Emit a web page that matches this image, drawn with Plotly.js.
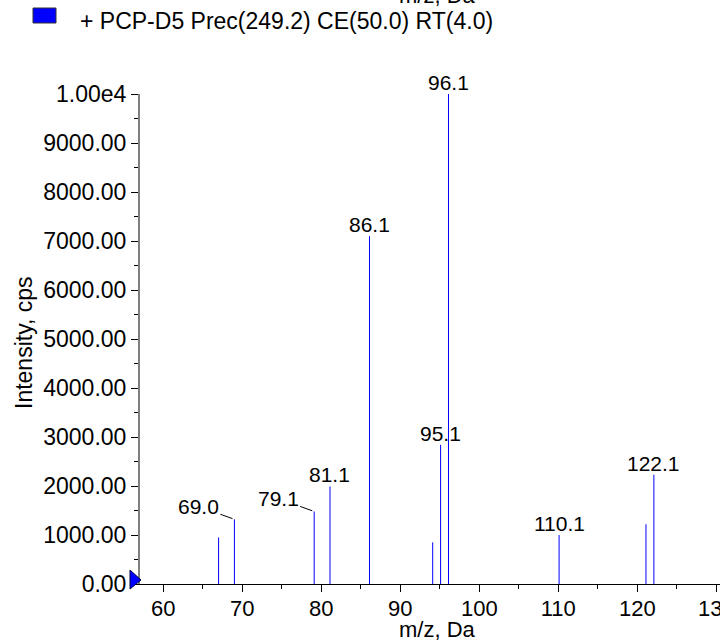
<!DOCTYPE html>
<html>
<head>
<meta charset="utf-8">
<script src="https://cdn.plot.ly/plotly-3.0.1.min.js"></script>
<style>html,body{margin:0;padding:0;overflow:hidden;background:#fff;}</style>
</head>
<body>
<div id="chart" style="width:720px;height:641px;"></div>
<script>
// Peak data
var mz = [67.0, 69.0, 79.1, 81.1, 86.1, 94.1, 95.1, 96.1, 110.1, 121.1, 122.1];
var intensity = [950, 1320, 1480, 1990, 7100, 850, 2840, 10000, 1000, 1220, 2230];
var peakLabels = ["", "69.0", "79.1", "81.1", "86.1", "", "95.1", "96.1", "110.1", "", "122.1"];
var leaderLabels = ["69.0", "79.1"];
var yTickVals = [0, 1000, 2000, 3000, 4000, 5000, 6000, 7000, 8000, 9000, 10000];
var yTickText = ["0.00", "1000.00", "2000.00", "3000.00", "4000.00", "5000.00", "6000.00", "7000.00", "8000.00", "9000.00", "1.00e4"];
var xRange = [57.05, 130.47];
var seriesName = "+ PCP-D5 Prec(249.2) CE(50.0) RT(4.0)";
var xTitle = "m/z, Da";
var yTitle = "Intensity, cps";

var FONT = "Liberation Sans, Arial, sans-serif";
var FS_PEAK = 21;
var FS_AXIS = 23;

// stick spectrum
var sx = [], sy = [];
for (var i = 0; i < mz.length; i++) {
  sx.push(mz[i], mz[i], null);
  sy.push(0, intensity[i], null);
}
var trace = {
  type: 'scatter', mode: 'lines', x: sx, y: sy,
  line: {color: '#0000ff', width: 1},
  hoverinfo: 'skip', showlegend: false, name: seriesName
};

var annotations = [];
for (var j = 0; j < mz.length; j++) {
  if (!peakLabels[j]) continue;
  if (leaderLabels.indexOf(peakLabels[j]) >= 0) {
    annotations.push({
      x: mz[j], y: intensity[j], xref: 'x', yref: 'y', text: peakLabels[j],
      showarrow: true, arrowhead: 0, arrowwidth: 1, arrowcolor: '#000',
      ax: -36, ay: -13, standoff: 2, font: {family: FONT, size: FS_PEAK, color: '#000'}
    });
  } else {
    annotations.push({
      x: mz[j], y: intensity[j], xref: 'x', yref: 'y', text: peakLabels[j],
      showarrow: false, yanchor: 'bottom', xanchor: 'center', yshift: -2,
      font: {family: FONT, size: FS_PEAK, color: '#000'}
    });
  }
}
// axis titles
annotations.push({
  xref: 'paper', yref: 'paper', x: (437 - 140) / 580, y: (584 - 629) / 490,
  text: xTitle, showarrow: false, xanchor: 'center', yanchor: 'middle', borderpad: 0,
  font: {family: FONT, size: 22, color: '#000'}
});
annotations.push({
  xref: 'paper', yref: 'paper', x: (437 - 140) / 580, y: (584 + 5) / 490,
  text: xTitle, showarrow: false, xanchor: 'center', yanchor: 'middle',
  font: {family: FONT, size: 22, color: '#000'}
});
annotations.push({
  xref: 'paper', yref: 'paper', x: (24 - 140) / 580, y: (584 - 343) / 490,
  text: yTitle, showarrow: false, textangle: -90, xanchor: 'center', yanchor: 'middle',
  font: {family: FONT, size: FS_AXIS, color: '#000'}
});
// legend text
annotations.push({
  xref: 'paper', yref: 'paper', x: (78 - 140) / 580, y: (584 - 21) / 490,
  text: seriesName, showarrow: false, xanchor: 'left', yanchor: 'middle',
  font: {family: FONT, size: FS_AXIS, color: '#000'}
});

var shapes = [
  // legend swatch
  {type: 'rect', xref: 'paper', yref: 'paper',
   x0: (33 - 140) / 580, x1: (56 - 140) / 580, y0: (584 - 23) / 490, y1: (584 - 8) / 490,
   fillcolor: '#0000ff', line: {color: '#333333', width: 1}},
  // baseline marker triangle
  {type: 'path', xref: 'paper', yref: 'paper', xsizemode: 'pixel', ysizemode: 'pixel',
   xanchor: 0, yanchor: 0, path: 'M -10 14 L 1 4 L -10 -5 Z',
   fillcolor: '#0000ff', line: {color: '#000044', width: 1}}
];

var layout = {
  width: 720, height: 641,
  margin: {l: 140, r: 0, t: 94, b: 57, pad: 0},
  paper_bgcolor: '#fff', plot_bgcolor: '#fff',
  font: {family: FONT, size: FS_AXIS, color: '#000'},
  showlegend: false,
  xaxis: {
    range: xRange, autorange: false, tick0: 0, dtick: 10,
    ticks: 'outside', ticklen: 7, tickwidth: 1, tickcolor: '#000',
    showline: true, linecolor: '#000', linewidth: 1,
    showgrid: false, zeroline: false, ticklabeloverflow: 'allow',
    ticklabelstandoff: -2,
    tickfont: {family: FONT, size: 22, color: '#000'},
    minor: {dtick: 5, tick0: 0, ticks: 'outside', ticklen: 4, tickcolor: '#000', tickwidth: 1, showgrid: false}
  },
  yaxis: {
    range: [0, 10000], autorange: false,
    tickmode: 'array', tickvals: yTickVals, ticktext: yTickText,
    ticks: 'outside', ticklen: 7, tickwidth: 1, tickcolor: '#000',
    showline: true, linecolor: '#808080', linewidth: 2,
    showgrid: false, zeroline: false,
    tickfont: {family: FONT, size: FS_AXIS, color: '#000'},
    minor: {dtick: 500, tick0: 0, ticks: 'outside', ticklen: 4, tickcolor: '#000', tickwidth: 1, showgrid: false}
  },
  annotations: annotations,
  shapes: shapes
};

Plotly.newPlot('chart', [trace], layout, {displayModeBar: false, staticPlot: true});
</script>
</body>
</html>
